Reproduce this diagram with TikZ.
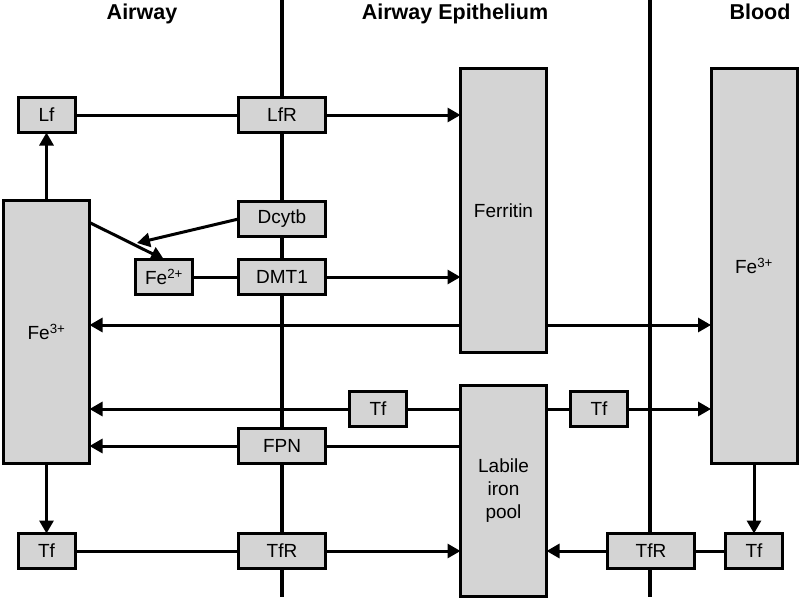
\documentclass[tikz,border=0pt]{standalone}
\usepackage{fontspec}
\setmainfont{Liberation Sans}
\usetikzlibrary{arrows.meta}
\definecolor{boxgray}{RGB}{212,212,212}

\begin{document}
\begin{tikzpicture}[x=1pt, y=-1pt, line width=3pt,
  box/.style={draw, fill=boxgray, inner sep=0pt, outer sep=0pt, align=center, font=\fontsize{19}{23}\selectfont},
  small/.style={box, minimum width=57pt, minimum height=35pt},
  wide/.style={box, minimum width=87pt, minimum height=35pt},
  tall/.style={box, minimum width=86pt},
  flow/.style={-{Triangle[length=13pt,width=14pt]}},
  region/.style={anchor=base, font=\fontsize{21.5}{26}\bfseries\selectfont}]
\useasboundingbox (0,0) rectangle (800,600);

% membranes
\coordinate (m1top) at (282,0);
\coordinate (m1bot) at (282,597);
\coordinate (m2top) at (650,0);
\coordinate (m2bot) at (650,597);
\draw[line width=3.3pt] (m1top) -- (m1bot);
\draw[line width=3.3pt] (m2top) -- (m2bot);

\node[region] (hairway) at (142,19) {Airway};
\node[region] (hepi) at (455,19) {Airway Epithelium};
\node[region] (hblood) at (760,19) {Blood};

\node[small] (lf) at (46.5,115) {Lf};
\node[wide] (lfr) at (282,115) {LfR};
\node[wide] (dcytb) at (282,219) {Dcytb};
\node[small] (fe2) at (164,277) {Fe\textsuperscript{2+}};
\node[wide] (dmt1) at (282,277) {DMT1};
\node[tall, minimum height=284pt] (ferritin) at (503.5,210.5) {Ferritin};
\node[tall, minimum height=263pt] (fe3air) at (46.5,332) {Fe\textsuperscript{3+}};
\node[tall, minimum height=395pt] (fe3blood) at (754,266) {Fe\textsuperscript{3+}};
\node[small] (tfepi1) at (378,409) {Tf};
\node[small] (tfepi2) at (599,409) {Tf};
\node[wide] (fpn) at (282,446) {FPN};
\node[tall, minimum height=211pt] (lip) at (503.5,491) {Labile\\iron\\pool};
\node[small] (tfair) at (46.5,551) {Tf};
\node[wide] (tfr1) at (282,551) {TfR};
\node[wide] (tfr2) at (651,551) {TfR};
\node[small] (tfblood) at (754,551) {Tf};

\coordinate (fe2tip) at (137,243);
\coordinate (store) at (503.5,325);

\draw[flow] (fe3air) -- (lf);
\draw (lf) -- (lfr);
\draw[flow] (lfr) -- (lfr -| ferritin.west);
\draw[flow] (dcytb.west) -- (fe2tip);
\draw[flow] ([yshift=-22pt]fe3air.north east) -- (fe2.north);
\draw (fe2) -- (dmt1);
\draw[flow] (dmt1) -- (dmt1 -| ferritin.west);
\draw[flow] (store -| ferritin.west) -- (store -| fe3air.east);
\draw[flow] (store -| ferritin.east) -- (store -| fe3blood.west);
\draw[flow] (tfepi1) -- (tfepi1 -| fe3air.east);
\draw (tfepi1 -| lip.west) -- (tfepi1);
\draw (tfepi2 -| lip.east) -- (tfepi2);
\draw[flow] (tfepi2) -- (tfepi2 -| fe3blood.west);
\draw[flow] (fpn) -- (fpn -| fe3air.east);
\draw (fpn) -- (fpn -| lip.west);
\draw[flow] (fe3air) -- (tfair);
\draw (tfair) -- (tfr1);
\draw[flow] (tfr1) -- (tfr1 -| lip.west);
\draw[flow] (fe3blood) -- (tfblood);
\draw (tfblood) -- (tfr2);
\draw[flow] (tfr2) -- (tfr2 -| lip.east);

\end{tikzpicture}
\end{document}
